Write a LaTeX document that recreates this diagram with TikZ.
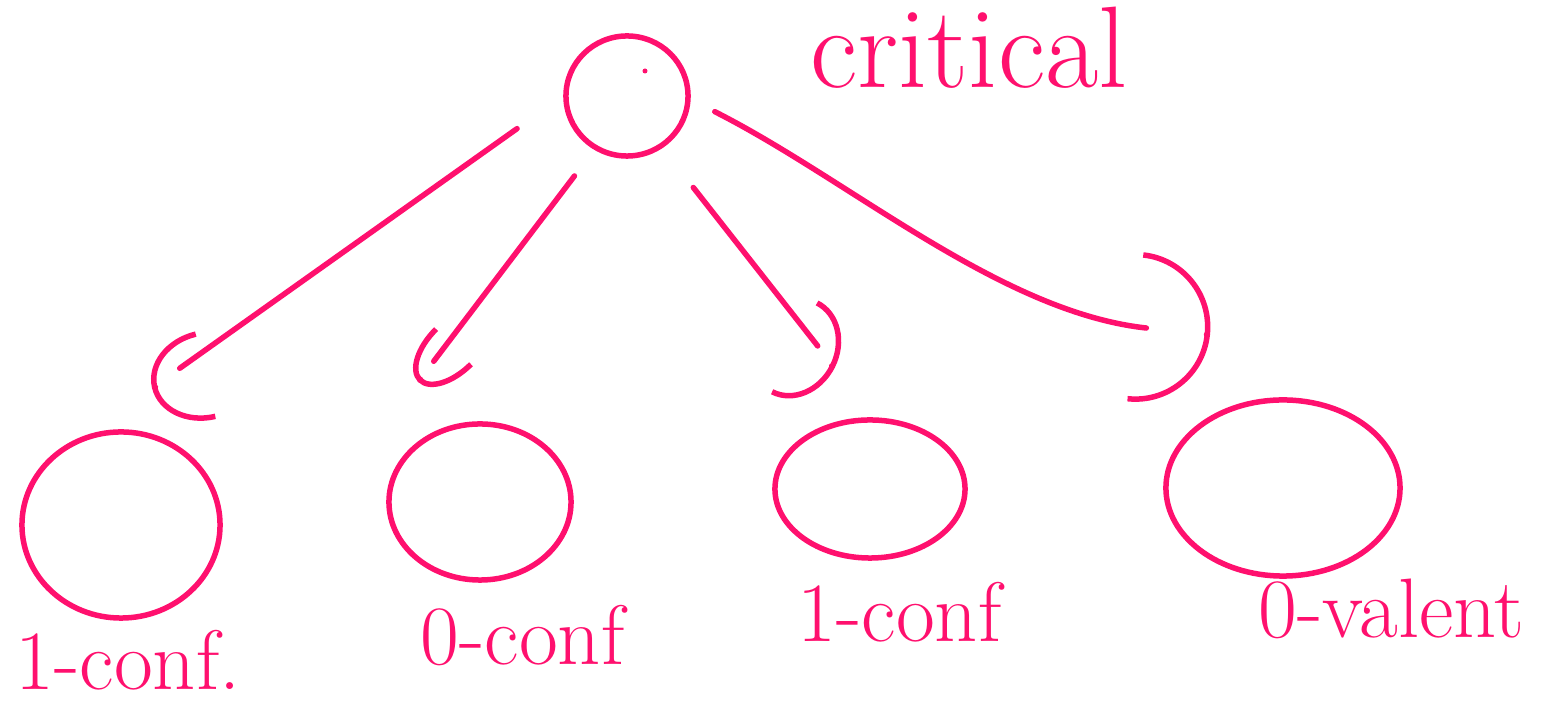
\documentclass[tikz,border=0pt]{standalone}
\usetikzlibrary{arrows.meta,shapes.geometric,decorations.markings}
\definecolor{inkc}{RGB}{255,16,110}
\begin{document}
\begin{tikzpicture}[x=0.01cm,y=-0.01cm,
  ink/.style={draw=inkc, line width=0.55mm, line cap=round, line join=round},
  blob/.style={ink, ellipse, inner sep=0pt, outer sep=0pt},
  conn/.style n args={4}{ink, shorten >=#3,
    postaction={decorate, decoration={markings,
      mark=at position 1 with {\draw[ink, shorten >=0pt, shorten <=0pt, rotate=#4,
        -{Arc Barb[length=#1,width=#2]}] (-1pt,0pt) -- (0pt,0pt);}}}},
  lbl/.style={text=inkc, inner sep=0pt, anchor=base west, font=\fontsize{24}{28}\selectfont},
  title/.style={lbl, font=\fontsize{33}{38}\selectfont}]
\useasboundingbox (0,0) rectangle (1562,728);
% nodes
\node[blob, minimum width=1.22cm, minimum height=1.20cm] (top) at (627,96) {};
\node[blob, minimum width=1.98cm, minimum height=1.86cm] (b1) at (121,525) {};
\node[blob, minimum width=1.82cm, minimum height=1.56cm] (b2) at (480,502) {};
\node[blob, minimum width=1.90cm, minimum height=1.38cm] (b3) at (870,489) {};
\node[blob, minimum width=2.34cm, minimum height=1.76cm] (b4) at (1283,488) {};
\fill[inkc] (645,71) circle[radius=0.25mm];
% labels
\node[title] (lcrit) at (810,88) {critical};
\node[lbl] (l1) at (15,690) {1-conf.};
\node[lbl] (l2) at (420,665) {0-conf};
\node[lbl] (l3) at (797,642) {1-conf};
\node[lbl] (l4) at (1258,638) {0-valent};
% arrow ends
\coordinate (t1) at (152,388);
\coordinate (t2) at (418,382);
\coordinate (t3) at (835,368);
\coordinate (t4) at (1210,335);
% connectors
\draw[conn={5.5mm}{9mm}{3.4mm}{-22}, shorten <=0.6cm] (top.178) -- (t1);
\draw[conn={5mm}{5.5mm}{2.6mm}{-8}, shorten <=0.355cm] (top.239) -- (t2);
\draw[conn={4.5mm}{10.5mm}{2.8mm}{25}, shorten <=0.527cm] (top.304) -- (t3);
\draw[conn={7.5mm}{15mm}{6.4mm}{0}, shorten <=0.3cm] (top.358) .. controls (850,180) and (1000,312) .. (t4);
\end{tikzpicture}
\end{document}
